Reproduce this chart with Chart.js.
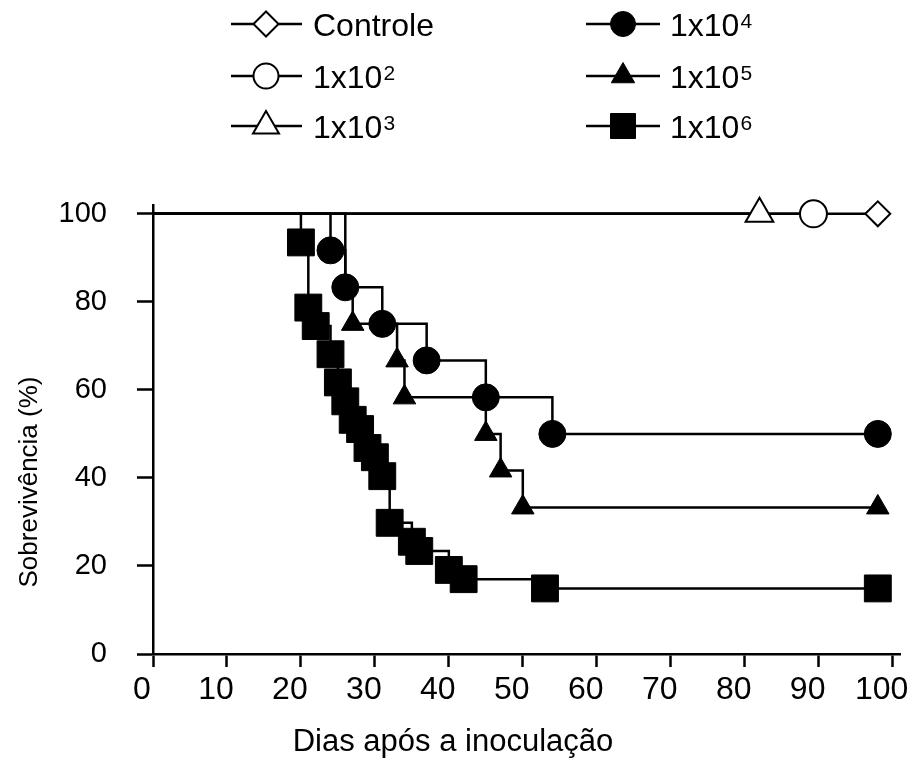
<!DOCTYPE html>
<html><head><meta charset="utf-8">
<script src="https://cdn.jsdelivr.net/npm/chart.js@4.4.0/dist/chart.umd.min.js"></script>
<style>html,body{margin:0;padding:0;background:#fff;}#wrap{width:908px;height:762px;}</style>
</head><body><div id="wrap"><canvas id="c" width="908" height="762"></canvas></div>
<script>
const FONT = '"Liberation Sans", Arial, Helvetica, sans-serif';

// ---- data (days after inoculation, survival %) ----
const seriesLabels = ['Controle', '1x10²', '1x10³', '1x10⁴', '1x10⁵', '1x10⁶'];
const legendBase = ['Controle', '1x10', '1x10', '1x10', '1x10', '1x10'];
const legendSup  = ['', '2', '3', '4', '5', '6'];

const daysControle = [0, 98];
const survControle = [100, 100];
const days1e2 = [0, 89.3];
const surv1e2 = [100, 100];
const days1e3 = [0, 82];
const surv1e3 = [100, 100];
const days1e4 = [0, 24, 26, 31, 37, 45, 54, 98];
const surv1e4 = [100, 91.7, 83.3, 75, 66.7, 58.3, 50, 50];
const days1e5 = [0, 26, 27, 33, 34, 45, 47, 50, 98];
const surv1e5 = [100, 83.3, 75, 66.7, 58.3, 50, 41.7, 33.3, 33.3];
const days1e6 = [0, 20, 21, 22, 24, 25, 26, 27, 28, 29, 30, 31, 32, 35, 36, 40, 42, 53, 98];
const surv1e6 = [100, 93.5, 78.7, 74.5, 68.1, 61.7, 57.4, 53.2, 51.1, 46.8, 44.7, 40.4, 29.8, 25.5, 23.4, 19.1, 17.0, 14.9, 14.9];

const xTicks = [0, 10, 20, 30, 40, 50, 60, 70, 80, 90, 100];
const yTicks = [0, 20, 40, 60, 80, 100];
const xTitle = 'Dias após a inoculação';
const yTitle = 'Sobrevivência (%)';

function pts(d, s) { return d.map((x, i) => ({x: x, y: s[i]})); }
function radii(n, r) { return Array.from({length: n}, (_, i) => i === 0 ? 0 : r); }

function ds(label, d, s, style, r, fill, bw, order) {
  return {
    label: label, data: pts(d, s), stepped: true, borderColor: '#000', borderWidth: 2.5,
    pointStyle: style, pointRadius: radii(d.length, r), pointBackgroundColor: fill,
    pointBorderColor: '#000', pointBorderWidth: bw, fill: false, tension: 0, clip: false, order: order
  };
}

const datasets = [
  ds(seriesLabels[0], daysControle, survControle, 'rectRot', 12.5, '#fff', 2, 2),
  ds(seriesLabels[1], days1e2, surv1e2, 'circle', 13.5, '#fff', 2, 1),
  ds(seriesLabels[2], days1e3, surv1e3, 'triangle', 16, '#fff', 2, 0),
  ds(seriesLabels[3], days1e4, surv1e4, 'circle', 13.5, '#000', 1, 3),
  ds(seriesLabels[4], days1e5, surv1e5, 'triangle', 13, '#000', 1, 5),
  ds(seriesLabels[5], days1e6, surv1e6, 'rect', 19, '#000', 1, 4)
];

// legend marker specs
const legendMarks = [
  {style: 'diamond', r: 12.5, fill: '#fff'},
  {style: 'circle', r: 12.5, fill: '#fff'},
  {style: 'triangle', r: 15, fill: '#fff'},
  {style: 'circle', r: 12.5, fill: '#000'},
  {style: 'triangle', r: 13.5, fill: '#000'},
  {style: 'square', r: 12.5, fill: '#000'}
];

function drawMark(ctx, m, x, y) {
  ctx.beginPath();
  if (m.style === 'circle') ctx.arc(x, y, m.r, 0, Math.PI * 2);
  else if (m.style === 'diamond') { ctx.moveTo(x - m.r, y); ctx.lineTo(x, y - m.r); ctx.lineTo(x + m.r, y); ctx.lineTo(x, y + m.r); ctx.closePath(); }
  else if (m.style === 'triangle') { ctx.moveTo(x, y - m.r); ctx.lineTo(x + 0.866 * m.r, y + m.r / 2); ctx.lineTo(x - 0.866 * m.r, y + m.r / 2); ctx.closePath(); }
  else if (m.style === 'square') { ctx.rect(x - m.r, y - m.r, 2 * m.r, 2 * m.r); }
  ctx.fillStyle = m.fill; ctx.fill();
  ctx.lineWidth = m.fill === '#fff' ? 2 : 1; ctx.strokeStyle = '#000'; ctx.stroke();
}

const decor = {
  id: 'decor',
  afterDraw(chart) {
    const ctx = chart.ctx;
    ctx.save();
    ctx.fillStyle = '#000';
    ctx.textAlign = 'center'; ctx.textBaseline = 'middle';
    ctx.font = '31px ' + FONT;
    ctx.fillText(xTitle, 453, 742);
    ctx.save();
    ctx.translate(30, 482); ctx.rotate(-Math.PI / 2);
    ctx.font = '26px ' + FONT;
    ctx.fillText(yTitle, 0, 0);
    ctx.restore();
    // legend: 2 columns x 3 rows
    const rowsY = [24, 76, 126];
    const cols = [{x1: 231, x2: 302, mx: 266, tx: 313}, {x1: 586, x2: 660, mx: 623, tx: 670}];
    for (let i = 0; i < 6; i++) {
      const c = cols[Math.floor(i / 3)], y = rowsY[i % 3];
      ctx.beginPath(); ctx.moveTo(c.x1, y); ctx.lineTo(c.x2, y);
      ctx.lineWidth = 2.5; ctx.strokeStyle = '#000'; ctx.stroke();
      drawMark(ctx, legendMarks[i], c.mx, y);
      ctx.fillStyle = '#000'; ctx.textAlign = 'left'; ctx.textBaseline = 'alphabetic';
      ctx.font = '32px ' + FONT;
      ctx.fillText(legendBase[i], c.tx, y + 11.5);
      if (legendSup[i]) {
        const w = ctx.measureText(legendBase[i]).width;
        ctx.font = '21px ' + FONT;
        ctx.fillText(legendSup[i], c.tx + w + 1, y + 4);
      }
    }
    ctx.restore();
  }
};

new Chart(document.getElementById('c'), {
  type: 'line',
  data: {datasets: datasets},
  plugins: [decor],
  options: {
    responsive: false, animation: false, devicePixelRatio: 1, events: [],
    layout: {autoPadding: false, padding: {left: 0, right: 8, top: 205, bottom: 0}},
    plugins: {legend: {display: false}, tooltip: {enabled: false}},
    scales: {
      x: {
        type: 'linear', min: 0, max: 101,
        afterFit(s) { s.height = 108; s.paddingLeft = 0; s.paddingRight = 0; },
        afterBuildTicks(s) { s.ticks = xTicks.map(v => ({value: v})); },
        border: {display: true, color: '#000', width: 2.5},
        grid: {drawOnChartArea: false, drawTicks: true, tickLength: 13, tickWidth: 2.5, tickColor: '#000'},
        ticks: {color: '#000', font: {family: FONT, size: 32}, padding: 4, labelOffset: -11, maxRotation: 0, autoSkip: false}
      },
      y: {
        min: 0, max: 102,
        afterFit(s) { s.width = 153; s.paddingTop = 0; s.paddingBottom = 0; },
        afterBuildTicks(s) { s.ticks = yTicks.map(v => ({value: v})); },
        border: {display: true, color: '#000', width: 2.5},
        grid: {drawOnChartArea: false, drawTicks: true, tickLength: 16, tickWidth: 2.5, tickColor: '#000'},
        ticks: {color: '#000', font: {family: FONT, size: 29}, padding: 30, autoSkip: false}
      }
    }
  }
});
</script></body></html>
